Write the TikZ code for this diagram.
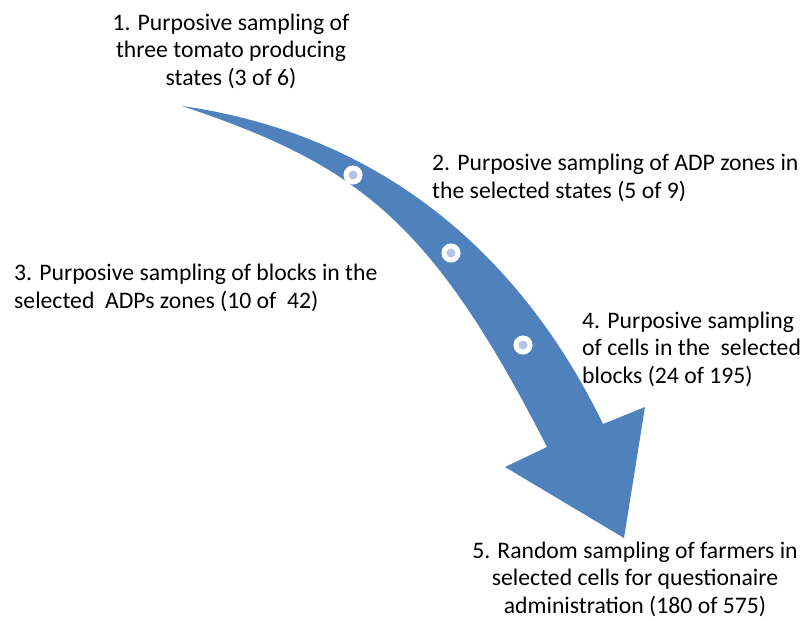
\documentclass[tikz,border=0pt]{standalone}
\usepackage{fontspec}
\setmainfont{Carlito}
\usetikzlibrary{positioning}
\definecolor{arrowblue}{HTML}{4F81BD}
\definecolor{dotblue}{HTML}{B4C3E1}
\tikzset{
  stage/.style={font=\fontsize{23.7}{27.5}\selectfont, inner sep=0pt},
  dot/.style={circle, fill=dotblue, draw=white, line width=5pt, minimum size=14pt, inner sep=0pt},
}
\begin{document}
\begin{tikzpicture}[x=1pt,y=-1pt]
%
  \useasboundingbox (0,0) rectangle (806,619);
  \coordinate (tail) at (182,106);
  \fill [arrowblue] (tail) .. controls (420,140) and (542,298) .. (603,424)
    -- (645,407) -- (624,538) -- (505,467) -- (547,447)
    .. controls (431,220) and (358,165) .. (tail) -- cycle;
  \node (d1) at (353,175) [dot] {};
  \node (d2) at (451,253) [dot] {};
  \node (d3) at (523,345) [dot] {};
  \node (s1) at (231,85) [stage, anchor=base, align=center] {1. Purposive sampling of\\three tomato producing\\states (3 of 6)};
  \node (s2) at (432,198) [stage, anchor=base west, align=left] {2. Purposive sampling of ADP zones in\\the selected states (5 of 9)};
  \node (s3) at (14,308) [stage, anchor=base west, align=left] {3. Purposive sampling of blocks in the\\selected~ ADPs zones (10 of~ 42)};
  \node (s4) at (582,383) [stage, anchor=base west, align=left] {4. Purposive sampling\\of cells in the~ selected\\blocks (24 of 195)};
  \node (s5) at (635,613) [stage, anchor=base, align=center] {5. Random sampling of farmers in\\selected cells for questionaire\\administration (180 of 575)};
%
\end{tikzpicture}
\end{document}
